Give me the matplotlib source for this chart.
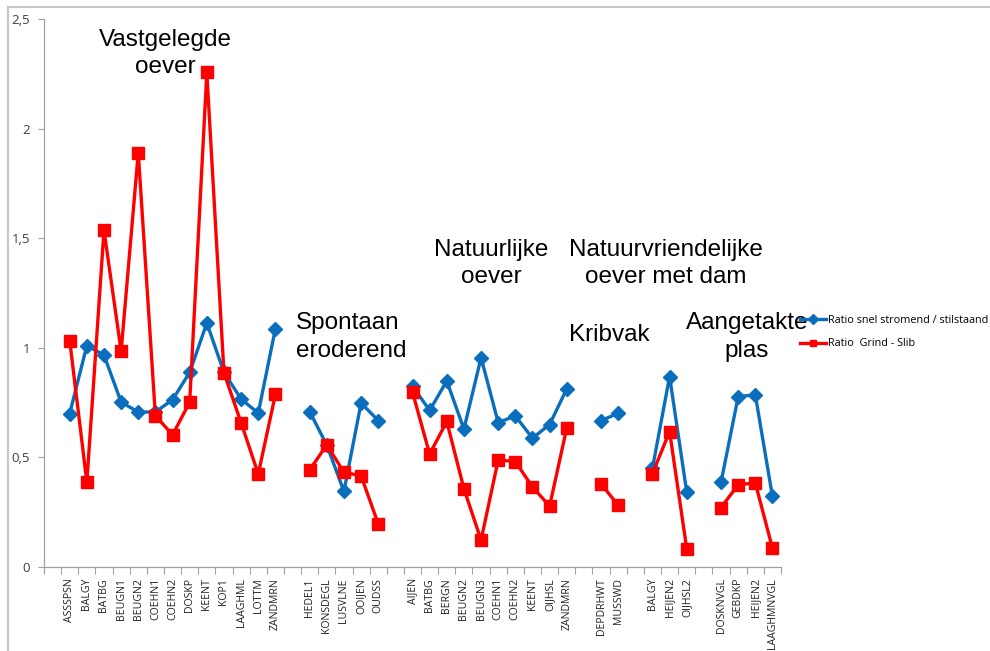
import numpy as np
import matplotlib
matplotlib.use("Agg")
import matplotlib.pyplot as plt
from matplotlib.lines import Line2D

nan = np.nan

# Site names per bank type; empty strings are spacer slots between the groups
categories = [
    "",
    "ASSSPSN", "BALGY", "BATBG", "BEUGN1", "BEUGN2", "COEHN1", "COEHN2",
    "DOSKP", "KEENT", "KOP1", "LAAGHML", "LOTTM", "ZANDMRN",
    "",
    "HEDEL1", "KONSDEGL", "LUSVLNE", "OOIJEN", "OUDSS",
    "",
    "AIJEN", "BATBG", "BERGN", "BEUGN2", "BEUGN3", "COEHN1", "COEHN2",
    "KEENT", "OIJHSL", "ZANDMRN",
    "",
    "DEPDRHWT", "MUSSWD",
    "",
    "BALGY", "HEIJEN2", "OIJHSL2",
    "",
    "DOSKNVGL", "GEBDKP", "HEIJEN2", "LAAGHMNVGL",
]

ratio_stroming = [
    nan,
    0.70, 1.01, 0.967, 0.752, 0.707, 0.707, 0.763, 0.888, 1.113, 0.888, 0.766, 0.702, 1.087,
    nan,
    0.709, 0.556, 0.345, 0.748, 0.668,
    nan,
    0.826, 0.714, 0.849, 0.629, 0.955, 0.659, 0.689, 0.588, 0.650, 0.813,
    nan,
    0.667, 0.702,
    nan,
    0.450, 0.869, 0.342,
    nan,
    0.386, 0.777, 0.786, 0.322,
]

ratio_grind_slib = [
    nan,
    1.033, 0.386, 1.537, 0.984, 1.890, 0.690, 0.603, 0.752, 2.256, 0.886, 0.658, 0.424, 0.787,
    nan,
    0.443, 0.557, 0.432, 0.416, 0.197,
    nan,
    0.798, 0.515, 0.664, 0.357, 0.123, 0.488, 0.481, 0.365, 0.278, 0.634,
    nan,
    0.380, 0.281,
    nan,
    0.426, 0.618, 0.083,
    nan,
    0.271, 0.375, 0.384, 0.086,
]

yticks = [0, 0.5, 1, 1.5, 2, 2.5]
ytick_labels = ["0", "0,5", "1", "1,5", "2", "2,5"]

plt.rcParams["font.family"] = ["Liberation Sans", "DejaVu Sans"]

fig = plt.figure(figsize=(9.9, 6.51), dpi=100)
ax = fig.add_axes([44 / 990, 84 / 651, 737 / 990, 548 / 651])

x = np.arange(len(categories))
blue = "#0A6EBD"
red = "#FF0000"

ax.plot(x, ratio_stroming, color=blue, lw=2.4, marker="D", ms=7.5,
        markeredgecolor=blue, label="Ratio snel stromend / stilstaand", zorder=3)
ax.plot(x, ratio_grind_slib, color=red, lw=2.4, marker="s", ms=8.5,
        markeredgecolor=red, label="Ratio  Grind - Slib", zorder=4)

ax.set_xlim(-0.5, len(categories) - 0.5)
ax.set_ylim(0, 2.5)
ax.set_yticks(yticks)
ax.set_yticklabels(ytick_labels, fontsize=9.5, color="#404040",
                   family=["Open Sans", "DejaVu Sans"])
ax.tick_params(axis="y", length=4, width=0.8, color="#a0a0a0", pad=6)

ax.set_xticks(x)
ax.set_xticklabels(categories, rotation=90, fontsize=7.6, color="#202020",
                   family=["Open Sans", "DejaVu Sans"])
ax.tick_params(axis="x", which="major", length=0, pad=8)
ax.set_xticks(np.arange(-0.5, len(categories)), minor=True)
ax.tick_params(axis="x", which="minor", length=5, width=0.8, color="#a0a0a0")

for side in ("top", "right"):
    ax.spines[side].set_visible(False)
for side in ("left", "bottom"):
    ax.spines[side].set_color("#a0a0a0")
    ax.spines[side].set_linewidth(0.9)

# Bank-type annotations
tkw = dict(fontsize=17.5, color="black", linespacing=1.32)
ax.text(6.6, 2.455, "Vastgelegde\noever", ha="center", va="top", **tkw)
ax.text(14.2, 1.163, "Spontaan\neroderend", ha="left", va="top", **tkw)
ax.text(25.6, 1.498, "Natuurlijke\noever", ha="center", va="top", **tkw)
ax.text(35.8, 1.498, "Natuurvriendelijke\noever met dam", ha="center", va="top", **tkw)
ax.text(30.15, 1.108, "Kribvak", ha="left", va="top", **tkw)
ax.text(40.5, 1.163, "Aangetakte\nplas", ha="center", va="top", **tkw)

leg = ax.legend(loc="upper left", bbox_to_anchor=(1.02, 0.468), frameon=False,
                handlelength=2.4, handletextpad=0.2,
                labelspacing=1.15, borderaxespad=0.0,
                prop={"family": ["Open Sans", "DejaVu Sans"], "size": 7.8})
for h in leg.legend_handles:
    h.set_markersize(5)

# Chart-area border
fig.add_artist(Line2D([7.5 / 990, 7.5 / 990], [0, 1 - 6.5 / 651],
                      transform=fig.transFigure, color="#c8c8c8", lw=1.5))
fig.add_artist(Line2D([7.5 / 990, 1], [1 - 6.5 / 651, 1 - 6.5 / 651],
                      transform=fig.transFigure, color="#c8c8c8", lw=1.5))

fig.savefig("out.png", dpi=100, facecolor="white")
